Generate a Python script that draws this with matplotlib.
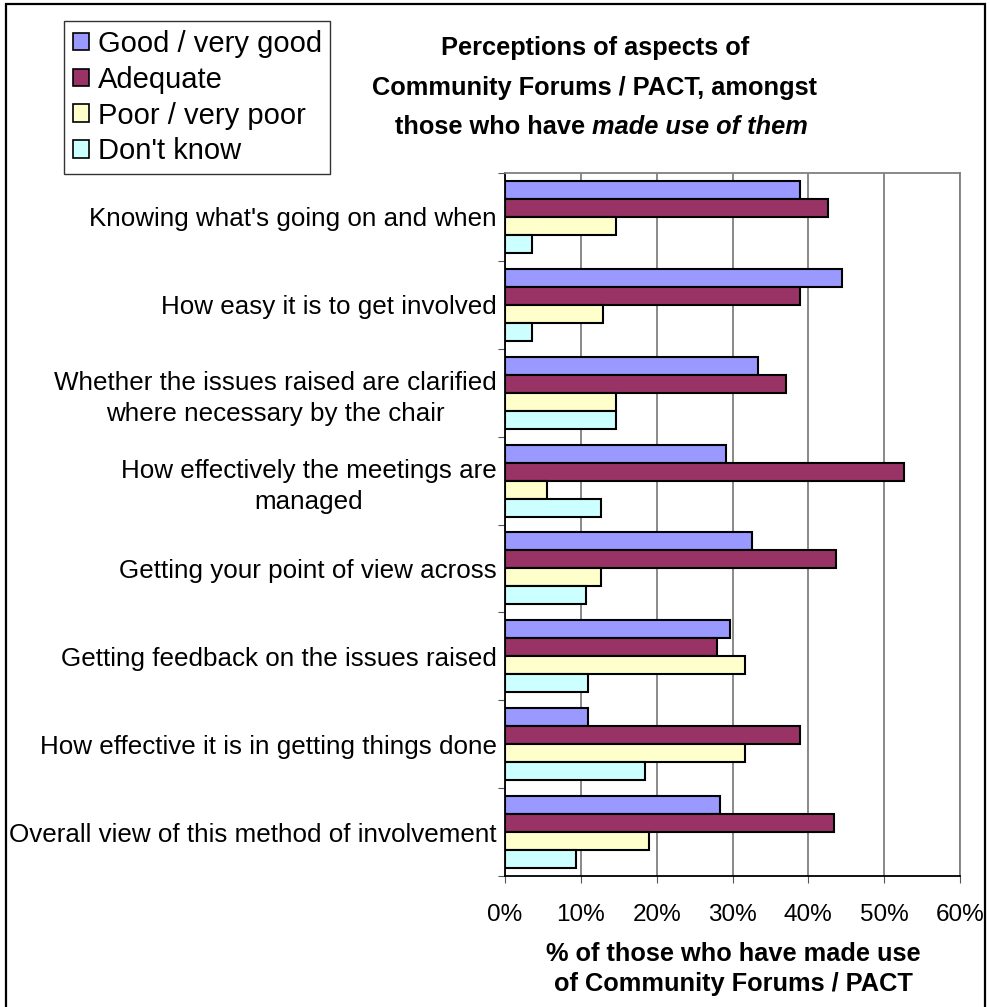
import matplotlib
matplotlib.use('Agg')
import matplotlib.pyplot as plt
from matplotlib.patches import Patch, Rectangle
import numpy as np

plt.rcParams['font.family'] = ['Liberation Sans', 'DejaVu Sans']

categories = [
    "Knowing what's going on and when",
    "How easy it is to get involved",
    "Whether the issues raised are clarified\nwhere necessary by the chair",
    "How effectively the meetings are\nmanaged",
    "Getting your point of view across",
    "Getting feedback on the issues raised",
    "How effective it is in getting things done",
    "Overall view of this method of involvement",
]
series_names = ["Good / very good", "Adequate", "Poor / very poor", "Don't know"]
good = [38.9, 44.5, 33.4, 29.2, 32.6, 29.7, 11.0, 28.4]
adequate = [42.6, 38.9, 37.1, 52.6, 43.7, 27.9, 38.9, 43.4]
poor = [14.7, 12.9, 14.7, 5.5, 12.6, 31.6, 31.6, 19.0]
dont_know = [3.6, 3.6, 14.7, 12.6, 10.7, 11.0, 18.4, 9.4]
xticks = [0, 10, 20, 30, 40, 50, 60]
colors = ['#9999FF', '#993366', '#FFFFCC', '#CCFFFF']

fig = plt.figure(figsize=(9.9, 10.07), dpi=100)
ax = fig.add_axes([505/990, 1 - 876/1007, 455/990, 703/1007])

n = len(categories)
bh = 0.205
centers = np.arange(n) + 0.5
for i, vals in enumerate([good, adequate, poor, dont_know]):
    ax.barh(centers + (i - 1.5) * bh, vals, height=bh, color=colors[i],
            edgecolor='black', linewidth=1.5, label=series_names[i], zorder=3)

ax.set_xlim(0, 60)
ax.set_ylim(n, 0)
ax.set_xticks(xticks)
ax.set_xticklabels([f"{t}%" for t in xticks], fontsize=17.5)
ax.xaxis.grid(True, color='#808080', linewidth=1.3, zorder=0)
# group boundaries get the ticks, labels sit in between
ax.set_yticks(np.arange(n + 1))
ax.set_yticklabels([])
ax.set_yticks(centers, minor=True)
ax.set_yticklabels(categories, minor=True, fontsize=18.7,
                   multialignment='center', linespacing=1.35)
ax.tick_params(axis='y', which='minor', length=0, pad=6)
ax.tick_params(axis='y', which='major', length=5, direction='out', color='#555555')
ax.tick_params(axis='x', length=5, direction='out', pad=15, color='#555555')
for s in ['top', 'right']:
    ax.spines[s].set_color('#808080')
    ax.spines[s].set_linewidth(1.3)
for s in ['left', 'bottom']:
    ax.spines[s].set_color('black')
    ax.spines[s].set_linewidth(1.3)

tsize = 18.3
fig.text(595/990, 1 - 48/1007, "Perceptions of aspects of",
         fontsize=tsize, fontweight='bold', ha='center', va='center')
fig.text(595/990, 1 - 88/1007, "Community Forums / PACT, amongst",
         fontsize=tsize, fontweight='bold', ha='center', va='center')
fig.text(592/990, 1 - 127/1007, "those who have ",
         fontsize=tsize, fontweight='bold', ha='right', va='center')
fig.text(592/990, 1 - 127/1007, "made use of them",
         fontsize=tsize, fontweight='bold', fontstyle='italic', ha='left', va='center')

fig.text(733/990, 1 - 969/1007, "% of those who have made use\nof Community Forums / PACT",
         fontsize=18.3, fontweight='bold', ha='center', va='center', linespacing=1.3)

handles = [Patch(facecolor=c, edgecolor='black', linewidth=1.2) for c in colors]
leg = fig.legend(handles, series_names, loc='upper left',
                 bbox_to_anchor=(64/990, 1 - 21/1007), borderaxespad=0,
                 fontsize=21, fancybox=False, edgecolor='#333333',
                 handlelength=0.55, handleheight=0.55, handletextpad=0.3,
                 labelspacing=0.27, borderpad=0.3, framealpha=1)
leg.get_frame().set_linewidth(1.0)

fig.patches.append(Rectangle((6/990, -0.05), 979/990, 1.05 - 4/1007,
                             transform=fig.transFigure, fill=False,
                             edgecolor='black', linewidth=1.6))

plt.savefig("out.png", dpi=100)
